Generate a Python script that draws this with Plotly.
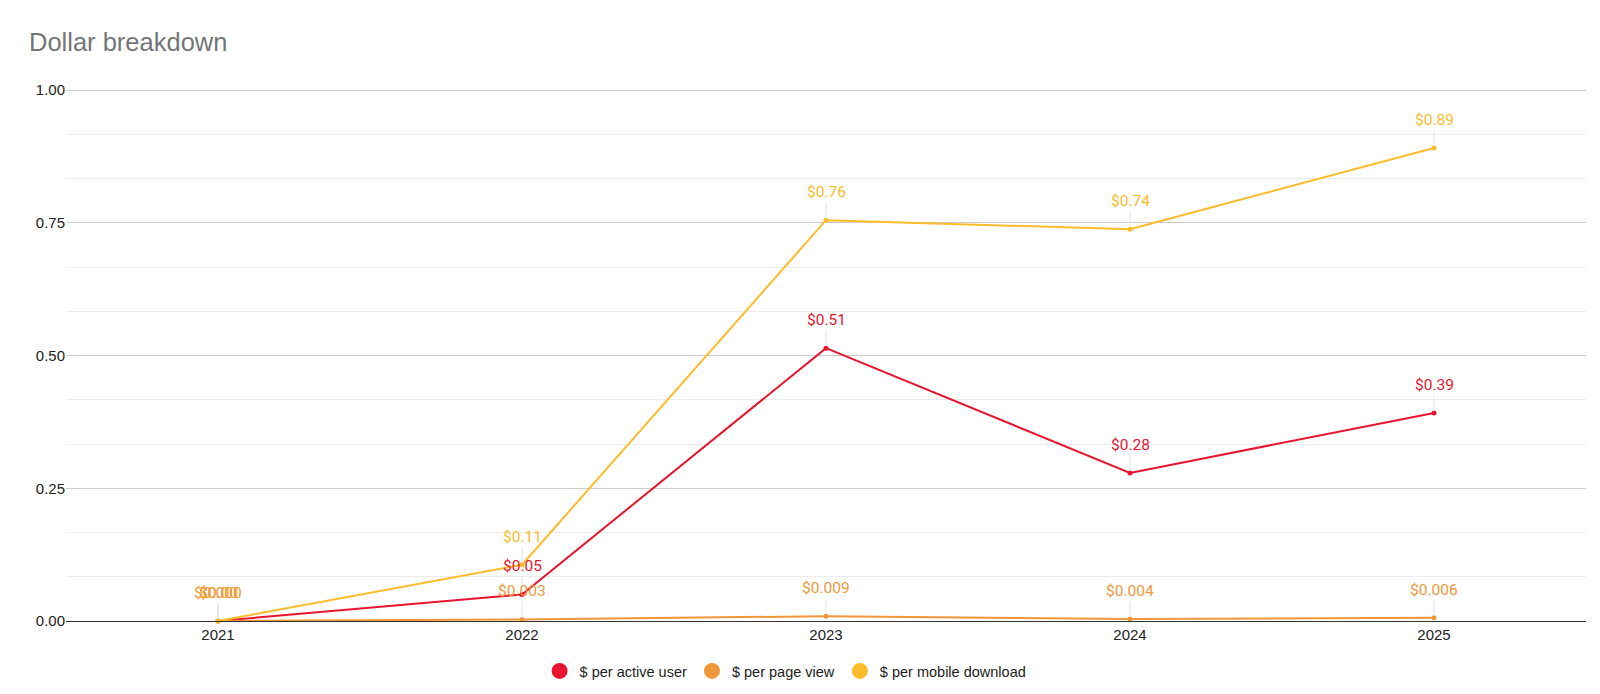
import plotly.graph_objects as go

years = ["2021", "2022", "2023", "2024", "2025"]
active_user = [0.0, 0.05, 0.514, 0.279, 0.392]
page_view = [0.0, 0.003, 0.009, 0.004, 0.006]
mobile_download = [0.0, 0.106, 0.755, 0.738, 0.891]

active_user_labels = ["$0.00", "$0.05", "$0.51", "$0.28", "$0.39"]
page_view_labels = ["$0.000", "$0.003", "$0.009", "$0.004", "$0.006"]
mobile_download_labels = ["$0.00", "$0.11", "$0.76", "$0.74", "$0.89"]

series_names = ["$ per active user", "$ per page view", "$ per mobile download"]
RED = "#e8152f"
ORANGE = "#f0973a"
YELLOW = "#fbbc2a"

fig = go.Figure()

series = [
    (series_names[0], active_user, active_user_labels, RED),
    (series_names[1], page_view, page_view_labels, ORANGE),
    (series_names[2], mobile_download, mobile_download_labels, YELLOW),
]

for name, vals, labs, col in series:
    fig.add_trace(go.Scatter(
        x=years, y=vals, mode="lines+markers", name=name,
        line=dict(color=col, width=2),
        marker=dict(color=col, size=5),
        showlegend=False, cliponaxis=False,
    ))

# legend-only dummy traces with round markers
for name, vals, labs, col in series:
    fig.add_trace(go.Scatter(
        x=[years[0]], y=[None], mode="markers", name=name,
        marker=dict(color=col, size=16),
        showlegend=True, hoverinfo="skip",
    ))

# data labels with leader lines (draw order: red, yellow, orange on top)
annotations = []
for idx in [0, 2, 1]:
    name, vals, labs, col = series[idx]
    for i, (yv, t) in enumerate(zip(vals, labs)):
        annotations.append(dict(
            x=i, y=yv, xref="x", yref="y", text=t.replace("$", "&#36;"),
            showarrow=True, ax=0, ay=-28, axref="pixel", ayref="pixel",
            arrowhead=0, arrowwidth=1, arrowcolor="#e3e3e3", standoff=2,
            font=dict(family="Roboto", size=15.5, color=col),
        ))

fig.update_layout(
    width=1600, height=694,
    paper_bgcolor="white", plot_bgcolor="white",
    margin=dict(l=58, r=22, t=80, b=79),
    annotations=annotations,
    title=dict(
        text="Dollar breakdown", xref="container", x=21 / 1600, xanchor="left",
        yref="container", y=1 - 34 / 694, yanchor="middle",
        font=dict(family="Liberation Sans, Arial", size=25.5, color="#757575"),
    ),
    legend=dict(
        orientation="h", xref="container", x=0.486, xanchor="center",
        yref="container", y=1 - 663 / 694, yanchor="middle",
        font=dict(family="Liberation Sans, Arial", size=14.5, color="#222222"),
        itemsizing="trace",
    ),
    showlegend=True,
)

fig.update_xaxes(
    type="category", range=[-0.5, 4.5],
    showgrid=False, showline=True, linecolor="#333333", linewidth=1,
    ticks="", tickfont=dict(family="Liberation Sans, Arial", size=15, color="#222222"),
    fixedrange=True,
)
fig.update_yaxes(
    range=[0, 1.004], tick0=0, dtick=0.25, tickformat=".2f",
    showgrid=True, gridcolor="#cccccc", gridwidth=1,
    zeroline=False, showline=False, ticks="",
    tickfont=dict(family="Liberation Sans, Arial", size=15, color="#222222"),
    minor=dict(dtick=0.25 / 3, tick0=0, showgrid=True, gridcolor="#ececec", gridwidth=1),
    fixedrange=True,
)

fig.write_html("out.html")
